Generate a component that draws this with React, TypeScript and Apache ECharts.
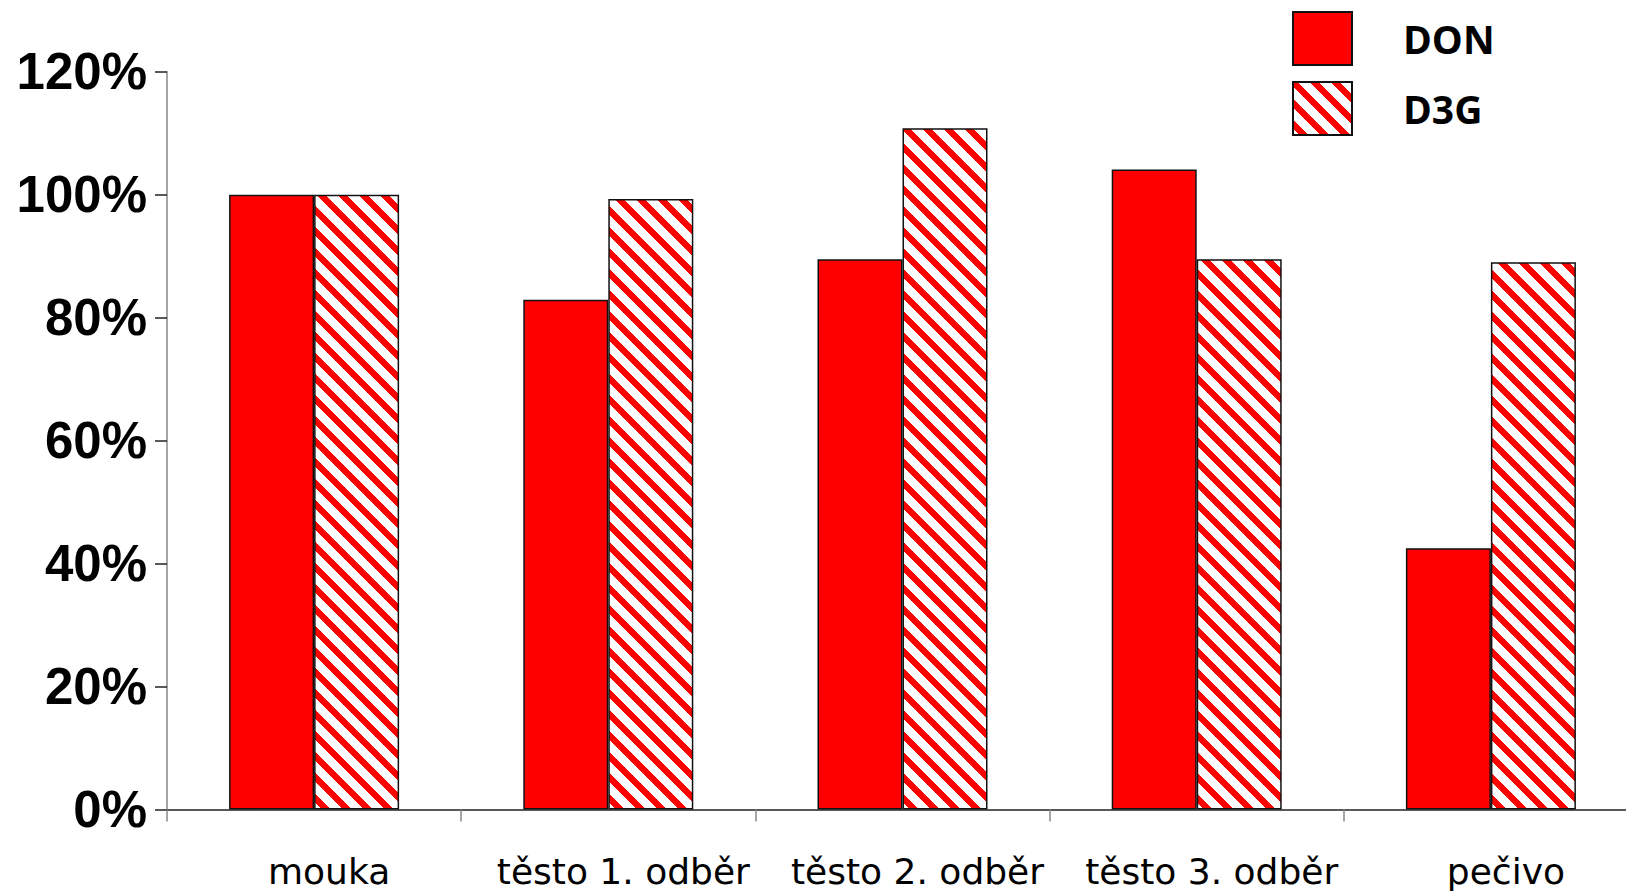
import React, { useEffect, useRef } from "react";
import * as echarts from "echarts";

// Share of toxin retained at each processing stage (% of the flour value)
const categories = ["mouka", "těsto 1. odběr", "těsto 2. odběr", "těsto 3. odběr", "pečivo"];
const donValues = [100, 82.9, 89.5, 104.1, 42.5];
const d3gValues = [100, 99.3, 110.8, 89.5, 89.0];
const seriesNames = ["DON", "D3G"];
const yMin = 0;
const yMax = 120;
const yStep = 20;

// Diagonal red/white stripe tile for the hatched series
const stripeTile =
  '<svg xmlns="http://www.w3.org/2000/svg" width="21" height="21" shape-rendering="crispEdges">' +
  '<rect width="21" height="21" fill="#ffffff"/>' +
  '<polygon points="0,0 4.2,0 21,16.8 21,21 16.8,21 0,4.2" fill="#ff0000"/>' +
  '<polygon points="16.8,0 21,0 21,4.2" fill="#ff0000"/>' +
  '<polygon points="0,16.8 0,21 4.2,21" fill="#ff0000"/>' +
  "</svg>";
const stripeUrl = "data:image/svg+xml;charset=utf-8," + encodeURIComponent(stripeTile);

export default function App() {
  const ref = useRef<HTMLDivElement>(null);

  useEffect(() => {
    if (!ref.current) return;
    const chart = echarts.init(ref.current, null, { renderer: "svg" });

    const hatch: any = {
      image: stripeUrl,
      repeat: "repeat",
      imageWidth: 21,
      imageHeight: 21,
    };

    chart.setOption({
      animation: false,
      backgroundColor: "#ffffff",
      // the category axis runs a little past the right edge of the canvas
      grid: {
        left: 167,
        top: 71.7,
        width: 1471,
        height: 737.8,
        containLabel: false,
        outerBoundsMode: "none",
      },
      legend: {
        orient: "vertical",
        left: 1292,
        top: 11,
        padding: 0,
        itemWidth: 59,
        itemHeight: 53,
        itemGap: 15,
        icon: "rect",
        data: seriesNames,
        textStyle: {
          fontFamily: "Open Sans",
          fontWeight: "bold",
          fontSize: 39,
          color: "#000000",
          padding: [0, 0, 0, 46],
        },
      },
      xAxis: {
        type: "category",
        data: categories,
        axisLine: { lineStyle: { color: "#222222", width: 1.5 } },
        axisTick: { show: true, length: 12, alignWithLabel: false, lineStyle: { color: "#888888", width: 1.5 } },
        axisLabel: {
          interval: 0,
          margin: 44,
          fontFamily: "DejaVu Sans",
          fontSize: 36,
          lineHeight: 36,
          color: "#000000",
          padding: [0, 0, 0, 30],
        },
        splitLine: { show: false },
      },
      yAxis: {
        type: "value",
        min: yMin,
        max: yMax,
        interval: yStep,
        axisLine: { show: true, lineStyle: { color: "#888888", width: 1.5 } },
        axisTick: { show: true, length: 12, lineStyle: { color: "#222222", width: 1.5 } },
        axisLabel: {
          margin: 20,
          formatter: "{value}%",
          fontFamily: "Liberation Sans",
          fontWeight: "bold",
          fontSize: 51,
          color: "#000000",
        },
        splitLine: { show: false },
      },
      series: [
        {
          name: seriesNames[0],
          type: "bar",
          data: donValues,
          barWidth: 85,
          barGap: "0%",
          itemStyle: { color: "#ff0000", borderColor: "#111111", borderWidth: 1.5 },
        },
        {
          name: seriesNames[1],
          type: "bar",
          data: d3gValues,
          barWidth: 85,
          barGap: "0%",
          itemStyle: { color: hatch, borderColor: "#111111", borderWidth: 1.5 },
        },
      ],
    });

    return () => chart.dispose();
  }, []);

  return (
    <div
      ref={ref}
      style={{ position: "absolute", left: 0, top: 0, width: 1626, height: 893, background: "#ffffff" }}
    />
  );
}
